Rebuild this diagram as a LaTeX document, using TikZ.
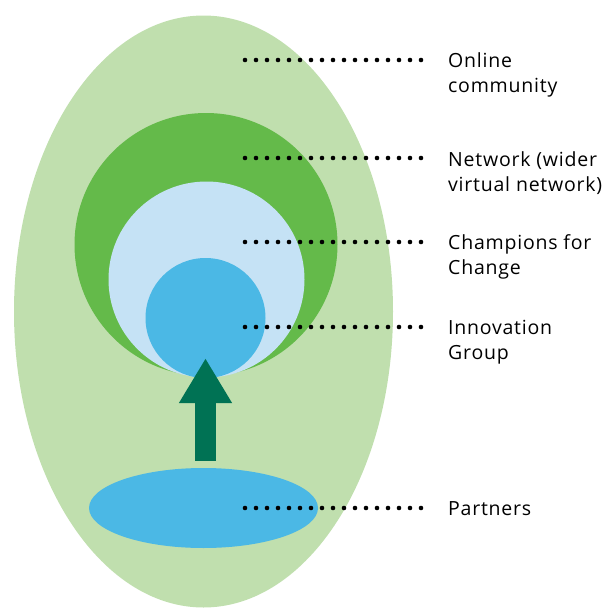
\documentclass[tikz,border=0pt]{standalone}
\usepackage{fontspec}
\setmainfont{Open Sans}[LetterSpace=4]
\usetikzlibrary{arrows.meta,shapes.geometric}
\definecolor{og}{RGB}{192, 223, 174}
\definecolor{nw}{RGB}{100, 186, 74}
\definecolor{ch}{RGB}{197, 226, 245}
\definecolor{ig}{RGB}{75, 184, 229}
\definecolor{ar}{RGB}{0, 114, 84}

\begin{document}
\begin{tikzpicture}[x=1pt, y=-1pt,
  every node/.style={inner sep=0pt},
  lab/.style={anchor=west, align=left, font=\fontsize{19.5}{25}\selectfont},
  dots/.style={line width=4.6pt, line cap=round, dash pattern=on 0pt off 11pt, shorten >=25pt}]
\useasboundingbox (0,0) rectangle (611,608);
\node (oc) [ellipse, minimum width=379pt, minimum height=592pt, fill=og] at (203.5, 311.5) {};
\node (nw) [circle, minimum size=263pt, fill=nw] at (206, 244.5) {};
\node (ch) [circle, minimum size=196pt, fill=ch] at (206.5, 279.5) {};
\node (ig) [circle, minimum size=120pt, fill=ig] at (205.5, 318) {};
\node (pa) [ellipse, minimum width=229pt, minimum height=80pt, fill=ig] at (203.5, 508) {};
% labels on the right
\node (l1) [lab] at (448, 75) {Online\\community};
\node (l2) [lab] at (448, 173) {Network (wider\\virtual network)};
\node (l3) [lab] at (448, 257) {Champions for\\Change};
\node (l4) [lab] at (448, 342) {Innovation\\Group};
\node (l5) [lab] at (448, 508.5) {Partners};
\coordinate (d1) at (245, 60);
\coordinate (d2) at (245, 158);
\coordinate (d3) at (245, 242);
\coordinate (d4) at (245, 327);
\coordinate (d5) at (245, 508);
\draw [dots] (d1) to (d1 -| l1.west);
\draw [dots] (d2) to (d2 -| l2.west);
\draw [dots] (d3) to (d3 -| l3.west);
\draw [dots] (d4) to (d4 -| l4.west);
\draw [dots] (d5) to (d5 -| l5.west);
% arrow from the partners up into the innovation group
\draw [line width=21pt, color=ar, -{Triangle[width=50pt, length=45pt]}, shorten <=7pt, shorten >=-20pt] (ig.south |- pa.north) to (ig.south);
\end{tikzpicture}
\end{document}
